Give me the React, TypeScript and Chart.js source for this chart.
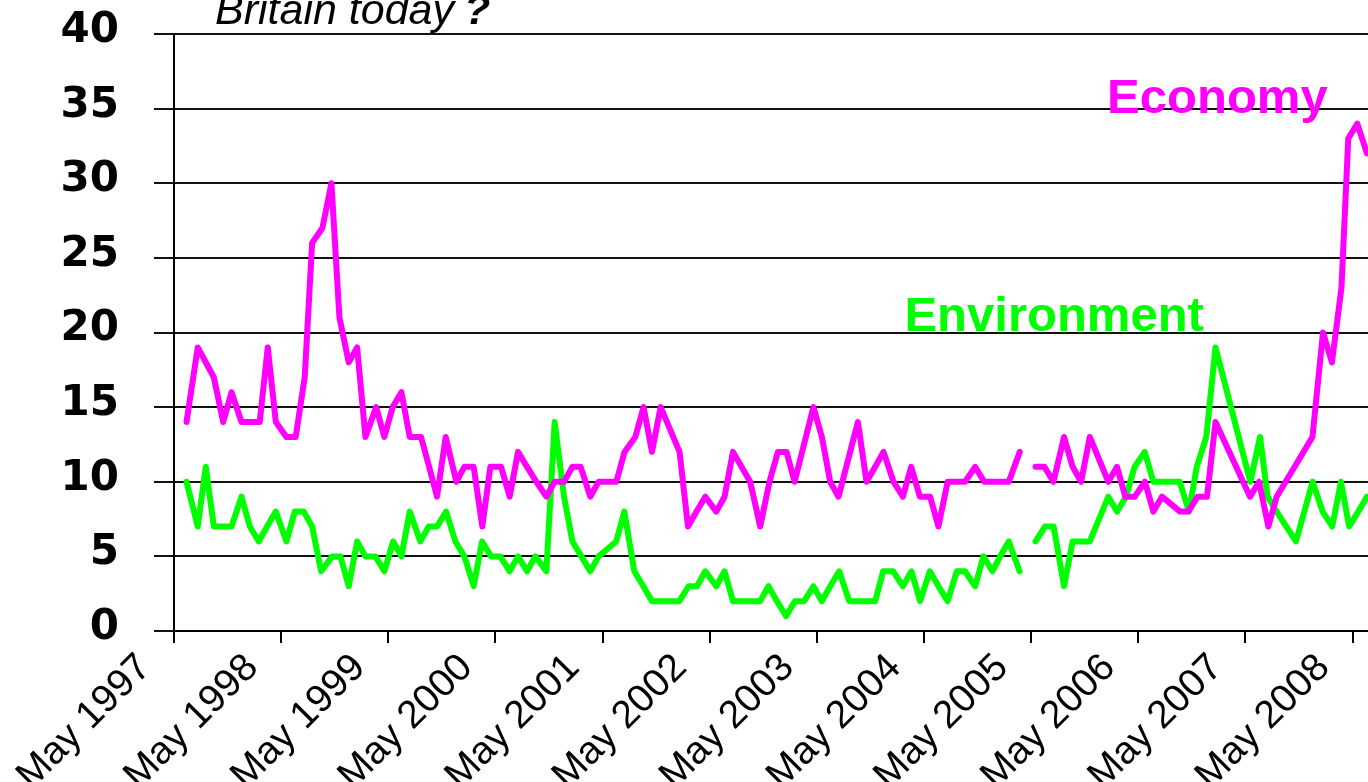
import React, { useEffect, useRef } from 'react';
import { Chart, registerables } from 'chart.js';

Chart.register(...registerables);

// Axis: months since May 1997
const yearTicks = [0, 12, 24, 36, 48, 60, 72, 84, 96, 108, 120, 132];
const yearLabels = ['May 1997', 'May 1998', 'May 1999', 'May 2000', 'May 2001', 'May 2002', 'May 2003', 'May 2004', 'May 2005', 'May 2006', 'May 2007', 'May 2008'];
const yTickValues = [0, 5, 10, 15, 20, 25, 30, 35, 40];

const economyMonths = [
  1.40, 2.66, 4.46, 5.51, 6.44, 7.56, 8.56, 9.60, 10.50, 11.40,
  12.59, 13.63, 14.64, 15.47, 16.62, 17.63, 18.53, 19.57, 20.51, 21.44,
  22.64, 23.56, 24.49, 25.47, 26.40, 27.67, 28.57, 29.46, 30.43, 31.62,
  32.52, 33.56, 34.53, 35.43, 36.63, 37.59, 38.53, 39.54, 40.58, 41.70,
  42.63, 43.68, 44.62, 45.54, 46.62, 47.55, 48.53, 49.54, 50.46, 51.66,
  52.59, 53.53, 54.50, 56.62, 57.56, 58.52, 59.50, 60.73, 61.66, 62.60,
  63.56, 64.53, 65.65, 66.69, 67.63, 68.60, 69.50, 71.61, 72.56, 73.49,
  74.42, 76.59, 77.56, 78.53, 79.46, 80.58, 81.63, 82.56, 83.53, 84.68,
  85.61, 86.64, 87.60, 88.60, 89.72, 90.73, 91.66, 92.52, 93.49, 94.72,
  95.60, 96.49, 97.48, 98.49, 99.68, 100.64, 101.59, 102.56, 104.64, 105.61,
  106.54, 107.59, 108.74, 109.68, 110.65, 112.67, 113.60, 114.63, 115.69, 116.64,
  120.51, 121.52, 122.56, 123.49, 127.50, 128.68, 129.68, 130.75, 131.51, 132.52,
  133.60,
];
const economyValues = [
  14, 19, 17, 14, 16, 14, 14, 14, 19, 14,
  13, 13, 17, 26, 27, 30, 21, 18, 19, 13,
  15, 13, 15, 16, 13, 13, 11, 9, 13, 10,
  11, 11, 7, 11, 11, 9, 12, 11, 10, 9,
  10, 10, 11, 11, 9, 10, 10, 10, 12, 13,
  15, 12, 15, 12, 7, 8, 9, 8, 9, 12,
  11, 10, 7, 10, 12, 12, 10, 15, 13, 10,
  9, 14, 10, 11, 12, 10, 9, 11, 9, 9,
  7, 10, 10, 10, 11, 10, 10, 10, 10, 12,
  null, 11, 11, 10, 13, 11, 10, 13, 10, 11,
  9, 9, 10, 8, 9, 8, 8, 9, 9, 14,
  9, 10, 7, 9, 13, 20, 18, 23, 33, 34,
  32,
];

const environmentMonths = [
  1.40, 2.66, 3.56, 4.46, 5.43, 6.44, 7.56, 8.49, 9.49, 10.43,
  11.40, 12.59, 13.52, 14.53, 15.47, 16.48, 17.71, 18.64, 19.57, 20.51,
  21.44, 22.56, 23.56, 24.54, 25.47, 26.40, 27.59, 28.52, 29.46, 30.47,
  31.51, 32.52, 33.56, 34.50, 35.51, 36.55, 37.59, 38.53, 39.54, 40.47,
  41.70, 42.63, 43.68, 44.62, 45.62, 46.62, 47.55, 49.53, 50.43, 51.55,
  52.56, 53.53, 54.50, 55.51, 56.59, 57.63, 58.57, 59.50, 60.73, 61.66,
  62.60, 63.56, 64.53, 65.65, 66.58, 67.52, 68.56, 69.54, 70.58, 71.61,
  72.56, 73.49, 74.50, 75.62, 76.57, 77.52, 78.53, 79.42, 80.54, 81.63,
  82.59, 83.56, 84.65, 85.61, 86.64, 87.67, 88.60, 89.72, 90.65, 91.66,
  92.52, 93.49, 94.70, 95.60, 96.49, 97.55, 98.51, 99.68, 100.64, 101.59,
  102.56, 104.64, 105.61, 106.62, 107.58, 108.72, 109.68, 110.65, 111.66, 112.63,
  113.68, 114.54, 115.61, 116.64, 120.54, 121.63, 122.47, 123.49, 125.65, 127.52,
  128.64, 129.72, 130.69, 131.61, 132.63, 133.60,
];
const environmentValues = [
  10, 7, 11, 7, 7, 7, 9, 7, 6, 7,
  8, 6, 8, 8, 7, 4, 5, 5, 3, 6,
  5, 5, 4, 6, 5, 8, 6, 7, 7, 8,
  6, 5, 3, 6, 5, 5, 4, 5, 4, 5,
  4, 14, 9, 6, 5, 4, 5, 6, 8, 4,
  3, 2, 2, 2, 2, 3, 3, 4, 3, 4,
  2, 2, 2, 2, 3, 2, 1, 2, 2, 3,
  2, 3, 4, 2, 2, 2, 2, 4, 4, 3,
  4, 2, 4, 3, 2, 4, 4, 3, 5, 4,
  5, 6, 4, null, 6, 7, 7, 3, 6, 6,
  6, 9, 8, 9, 11, 12, 10, 10, 10, 10,
  8, 11, 13, 19, 10, 13, 9, 8, 6, 10,
  8, 7, 10, 7, 8, 9,
];

const ECONOMY_COLOR = '#FF00FF';
const ENVIRONMENT_COLOR = '#00FF00';
const FONT_SANS = '"Liberation Sans", Arial, sans-serif';

// label anchors (months, value)
const economyLabelAt = [104.5, 34.7];
const environmentLabelAt = [81.8, 20.07];

const toPoints = (xs: number[], ys: (number | null)[]) => xs.map((x, i) => ({ x, y: ys[i] }));

const overlayPlugin = {
  id: 'overlayText',
  afterDatasetsDraw(chart: any) {
    const { ctx, scales } = chart;
    const x = scales.x;
    const y = scales.y;
    ctx.save();
    ctx.textBaseline = 'alphabetic';
    ctx.textAlign = 'left';
    ctx.font = `bold 49px ${FONT_SANS}`;
    ctx.fillStyle = ECONOMY_COLOR;
    ctx.fillText('Economy', x.getPixelForValue(economyLabelAt[0]), y.getPixelForValue(economyLabelAt[1]));
    ctx.fillStyle = ENVIRONMENT_COLOR;
    ctx.fillText('Environment', x.getPixelForValue(environmentLabelAt[0]), y.getPixelForValue(environmentLabelAt[1]));
    ctx.restore();
  },
  afterDraw(chart: any) {
    const { ctx } = chart;
    ctx.save();
    ctx.textBaseline = 'alphabetic';
    ctx.textAlign = 'left';
    ctx.fillStyle = '#000';
    ctx.font = `italic 43px ${FONT_SANS}`;
    const main = 'Britain today';
    ctx.fillText(main, 215, 23.5);
    const w = ctx.measureText(main + ' ').width;
    ctx.font = `italic bold 43px ${FONT_SANS}`;
    ctx.fillText('?', 215 + w - 2, 23.5);
    ctx.restore();
  },
};

export default function App() {
  const canvasRef = useRef<HTMLCanvasElement | null>(null);

  useEffect(() => {
    const canvas = canvasRef.current;
    if (!canvas) return;
    const chart = new Chart(canvas, {
      type: 'line',
      data: {
        datasets: [
          {
            label: 'Economy',
            data: toPoints(economyMonths, economyValues),
            borderColor: ECONOMY_COLOR,
            backgroundColor: ECONOMY_COLOR,
            borderWidth: 6,
            pointRadius: 0,
            tension: 0,
            spanGaps: false,
            borderJoinStyle: 'round',
            borderCapStyle: 'round',
          },
          {
            label: 'Environment',
            data: toPoints(environmentMonths, environmentValues),
            borderColor: ENVIRONMENT_COLOR,
            backgroundColor: ENVIRONMENT_COLOR,
            borderWidth: 6,
            pointRadius: 0,
            tension: 0,
            spanGaps: false,
            borderJoinStyle: 'round',
            borderCapStyle: 'round',
          },
        ],
      },
      options: {
        animation: false,
        responsive: false,
        devicePixelRatio: 1,
        events: [],
        layout: { padding: { top: 34, left: 0, right: 0, bottom: 0 } },
        plugins: {
          legend: { display: false },
          tooltip: { enabled: false },
          title: { display: false },
        },
        scales: {
          x: {
            type: 'linear',
            min: 0,
            max: 133.72,
            afterBuildTicks: (scale: any) => {
              scale.ticks = yearTicks.map((v) => ({ value: v }));
            },
            afterFit: (scale: any) => {
              scale.height = 151;
              scale.paddingLeft = 0;
              scale.paddingRight = 0;
            },
            grid: {
              display: true,
              drawOnChartArea: false,
              drawTicks: true,
              tickLength: 12,
              tickColor: '#000',
              tickWidth: 2,
              color: '#000',
              lineWidth: 2,
            },
            border: { display: true, color: '#000', width: 2 },
            ticks: {
              autoSkip: false,
              maxRotation: 45,
              minRotation: 45,
              padding: 2,
              labelOffset: -29,
              color: '#000',
              font: { family: FONT_SANS, size: 39 },
              callback: (value: any) => {
                const i = yearTicks.indexOf(Number(value));
                return i >= 0 ? yearLabels[i] : '';
              },
            },
          },
          y: {
            type: 'linear',
            min: 0,
            max: 40,
            afterBuildTicks: (scale: any) => {
              scale.ticks = yTickValues.map((v) => ({ value: v }));
            },
            afterFit: (scale: any) => {
              scale.width = 174;
              scale.paddingTop = 0;
              scale.paddingBottom = 0;
            },
            grid: {
              display: true,
              drawTicks: true,
              tickLength: 20,
              color: '#111',
              tickColor: '#111',
              lineWidth: 2,
            },
            border: { display: true, color: '#000', width: 2 },
            ticks: {
              padding: 35,
              labelOffset: -3,
              color: '#000',
              font: { family: '"DejaVu Sans", sans-serif', size: 42, weight: 'bold' },
              callback: (value: any) => String(value),
            },
          },
        },
      },
      plugins: [overlayPlugin],
    } as any);
    return () => chart.destroy();
  }, []);

  return (
    <div style={{ position: 'fixed', left: 0, top: 0, width: 1368, height: 782, background: '#fff', overflow: 'hidden' }}>
      <canvas ref={canvasRef} width={1368} height={782} style={{ width: '1368px', height: '782px', display: 'block' }} />
    </div>
  );
}
